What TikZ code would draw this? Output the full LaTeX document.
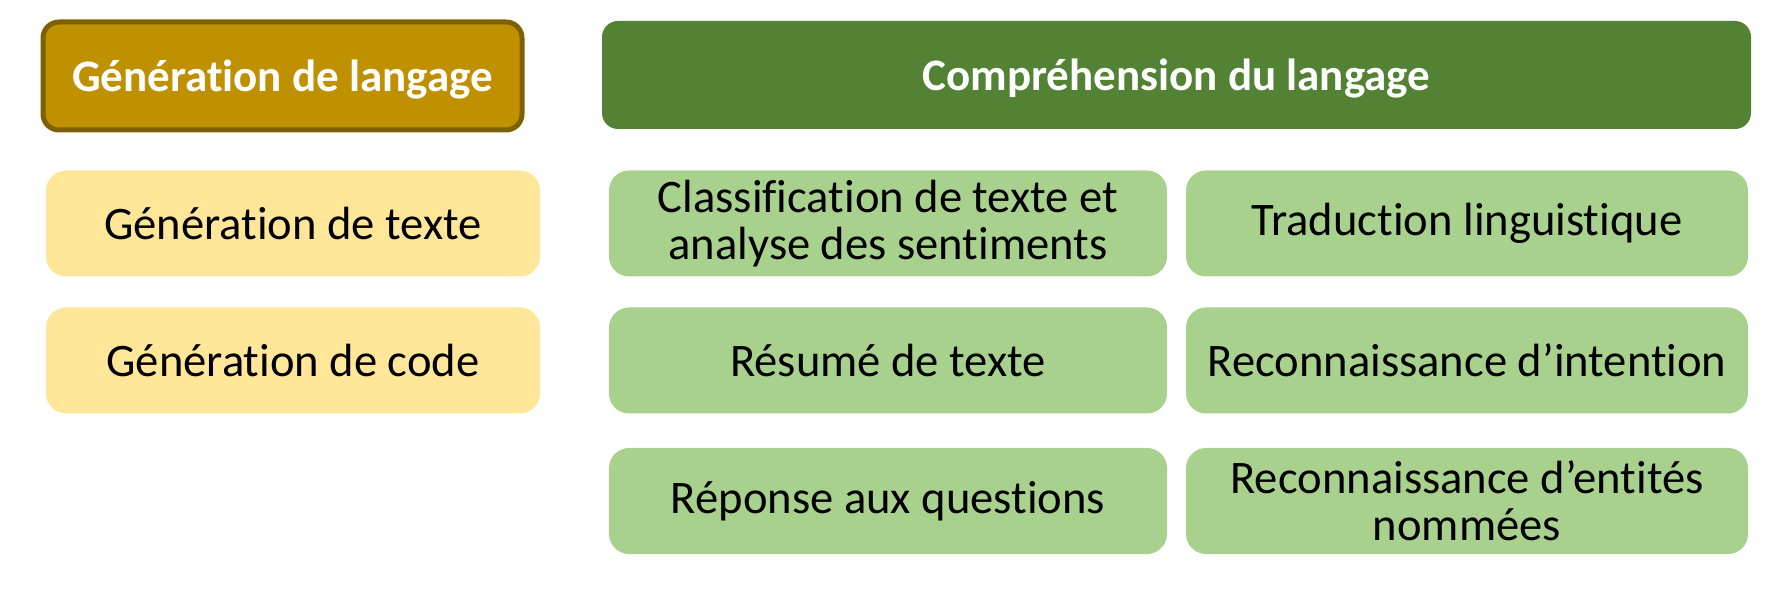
\documentclass[tikz,border=0pt]{standalone}
\usepackage{fontspec}
\setmainfont{Carlito}[Ligatures=NoCommon]

\definecolor{goldhead}{HTML}{BF9000}
\definecolor{goldline}{HTML}{7F6000}
\definecolor{greenhead}{HTML}{548235}
\definecolor{yellowbox}{HTML}{FFE699}
\definecolor{greenbox}{HTML}{A9D18E}

\begin{document}
\begin{tikzpicture}[x=0.5pt,y=-0.5pt,rounded corners=10pt,
  head/.style={minimum height=54pt,text depth=0pt,font=\fontsize{22.5}{24}\selectfont\bfseries,text=white},
  item/.style={minimum height=53pt,align=center,inner sep=0pt,font=\fontsize{23.3}{23.5}\selectfont}]
\useasboundingbox (0,0) rectangle (1791,592);
\draw node[head,minimum width=239.5pt,fill=goldhead,draw=goldline,line width=2.5pt,rounded corners=8pt] (gen) at (282.5,76) {Génération de langage};
\draw node[head,minimum width=574.5pt,fill=greenhead,rounded corners=8pt] (comp) at (1176.5,75) {Compréhension du langage};
\draw node[item,minimum width=247pt,fill=yellowbox] (gentext) at (293,223.5) {Génération de texte};
\draw node[item,minimum width=247pt,fill=yellowbox] (gencode) at (293,360.5) {Génération de code};
\draw node[item,minimum width=279pt,fill=greenbox] (classif) at (888,223.5) {Classification de texte et\\analyse des sentiments};
\draw node[item,minimum width=279pt,fill=greenbox] (resume) at (888,360.5) {Résumé de texte};
\draw node[item,minimum width=279pt,fill=greenbox] (reponse) at (888,501) {Réponse aux questions};
\draw node[item,minimum width=281pt,fill=greenbox] (trad) at (1467,223.5) {Traduction linguistique};
\draw node[item,minimum width=281pt,fill=greenbox] (intent) at (1467,360.5) {Reconnaissance d’intention};
\draw node[item,minimum width=281pt,fill=greenbox] (entites) at (1467,501) {Reconnaissance d’entités\\nommées};
\end{tikzpicture}
\end{document}
